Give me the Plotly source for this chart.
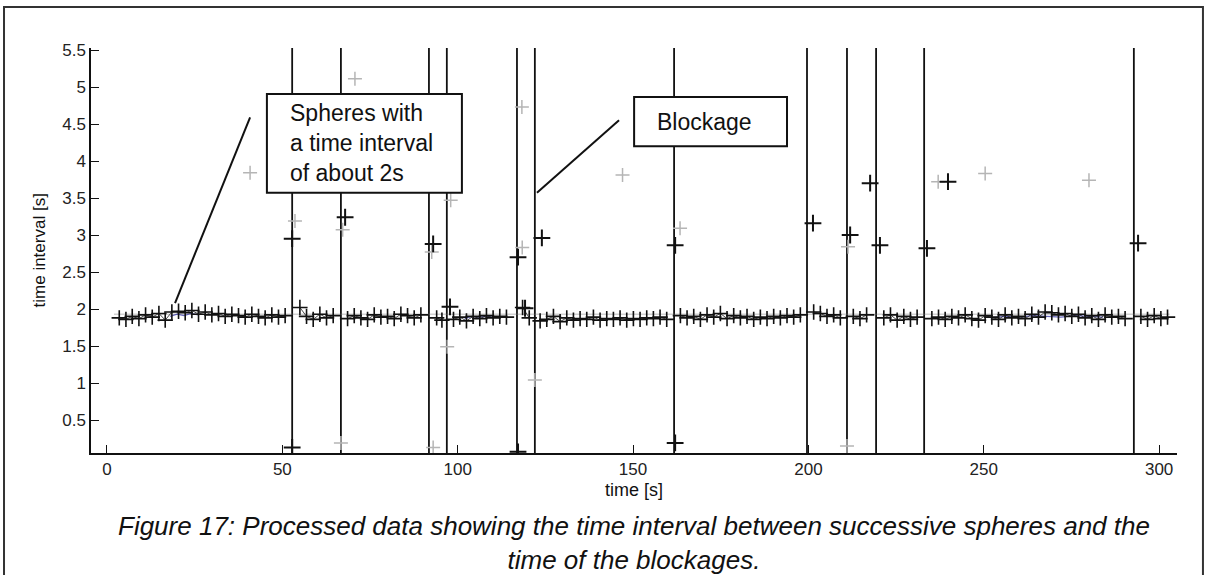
import plotly.graph_objects as go

# ---------------- data ----------------
main_times = [3.5, 5.4, 7.2, 9.1, 11.0, 12.9, 14.8, 16.6, 18.5, 20.4, 22.3, 24.2, 26.1, 28.0, 29.9,
              31.8, 33.7, 35.6, 37.5, 39.4, 41.3, 43.2, 45.1, 47.0, 48.9, 50.8,
              None,
              55.0, 56.9, 58.8, 60.7, 62.6, 64.5,
              None,
              68.6, 70.5, 72.4, 74.3, 76.2, 78.1, 80.0, 81.9, 83.8, 85.7, 87.6, 89.5,
              None,
              94.0, 95.5,
              None,
              98.8, 100.6, 102.5, 104.4, 106.3, 108.2, 110.1, 112.0, 113.9,
              None,
              118.5, 120.4,
              None,
              123.5, 125.4, 127.3, 129.2, 131.1, 133.0, 134.9, 136.8, 138.7, 140.6,
              142.5, 144.4, 146.3, 148.2, 150.1, 152.0, 153.9, 155.8, 157.7, 159.6,
              None,
              163.5, 165.4, 167.3, 169.2, 171.1, 173.0, 174.9, 176.8, 178.7, 180.6,
              182.5, 184.4, 186.3, 188.2, 190.1, 192.0, 193.9, 195.8, 197.7,
              None,
              201.5, 203.4, 205.3, 207.2, 209.1,
              None,
              212.8, 214.7, 216.6,
              None,
              221.5, 223.4, 225.3, 227.2, 229.1, 231.0,
              None,
              235.2, 237.1, 239.0, 240.9, 242.8, 244.7, 246.6, 248.5, 250.4, 252.3,
              254.2, 256.1, 258.0, 259.9, 261.8, 263.7, 265.6, 267.5, 269.4, 271.3,
              273.2, 275.1, 277.0, 278.9, 280.8, 282.7, 284.6, 286.5, 288.4, 290.3,
              None,
              294.8, 296.7, 298.6, 300.5, 302.4]
main_values = [1.88, 1.86, 1.90, 1.87, 1.92, 1.89, 1.94, 1.85, 1.96, 1.97, 1.95, 1.98, 1.93, 1.96, 1.92,
               1.94, 1.90, 1.93, 1.91, 1.89, 1.93, 1.90, 1.88, 1.92, 1.89, 1.91,
               None,
               2.02, 1.90, 1.86, 1.93, 1.88, 1.91,
               None,
               1.87, 1.91, 1.88, 1.86, 1.92, 1.89, 1.90, 1.87, 1.93, 1.91, 1.88, 1.92,
               None,
               1.88, 1.85,
               None,
               1.86, 1.89, 1.84, 1.90, 1.87, 1.91, 1.88, 1.90, 1.89,
               None,
               2.02, 1.88,
               None,
               1.84, 1.86, 1.90, 1.83, 1.88, 1.85, 1.87, 1.86, 1.89, 1.85,
               1.87, 1.86, 1.88, 1.85, 1.87, 1.86, 1.88, 1.87, 1.89, 1.86,
               None,
               1.91, 1.88, 1.90, 1.86, 1.92, 1.89, 1.94, 1.87, 1.91, 1.88,
               1.90, 1.86, 1.89, 1.87, 1.90, 1.88, 1.91, 1.89, 1.92,
               None,
               1.96, 1.94, 1.90, 1.92, 1.88,
               None,
               1.90, 1.87, 1.92,
               None,
               1.88, 1.92, 1.85, 1.90, 1.86, 1.89,
               None,
               1.87, 1.89, 1.86, 1.90, 1.88, 1.92, 1.87, 1.85, 1.91, 1.89,
               1.86, 1.92, 1.88, 1.90, 1.87, 1.93, 1.89, 1.96, 1.95, 1.92,
               1.94, 1.90, 1.93, 1.88, 1.91, 1.86, 1.92, 1.89, 1.90, 1.87,
               None,
               1.90, 1.86, 1.91, 1.87, 1.89]

outlier_times = [52.8, 52.8, 67.9, 93.0, 97.8, 117.2, 117.2, 119.2, 124.0, 162.0, 162.0,
                 201.3, 211.9, 217.6, 220.4, 233.8, 239.8, 294.0]
outlier_values = [2.95, 0.13, 3.24, 2.88, 2.03, 2.70, 0.07, 2.01, 2.96, 2.86, 0.19,
                  3.16, 3.00, 3.70, 2.86, 2.82, 3.72, 2.89]

faint_times = [40.8, 53.6, 67.2, 66.7, 70.7, 92.6, 93.0, 98.0, 97.0, 118.3, 118.4, 122.0,
               147.0, 163.4, 211.3, 211.0, 237.0, 250.4, 280.0]
faint_values = [3.84, 3.19, 3.07, 0.19, 5.11, 2.77, 0.13, 3.47, 1.49, 4.73, 2.83, 1.04,
                3.81, 3.09, 2.84, 0.15, 3.72, 3.83, 3.74]

blue_times = [18.0, 20.0, 22.0, 24.0, 26.0, None, 102.0, 104.0, 106.0, 108.0, 110.0,
              None, 252.0, 256.0, 260.0, 264.0, 268.0, 272.0, 276.0, 280.0, 284.0]
blue_values = [1.90, 1.93, 1.91, 1.94, 1.92, None, 1.87, 1.90, 1.89, 1.90, 1.89,
               None, 1.88, 1.90, 1.89, 1.91, 1.90, 1.89, 1.91, 1.90, 1.89]

blockage_times = [52.8, 66.7, 91.8, 96.9, 116.9, 122.0, 161.7, 199.6, 211.0, 219.3, 233.0, 292.8]

x_ticks = [0, 50, 100, 150, 200, 250, 300]
y_ticks = [0.5, 1, 1.5, 2, 2.5, 3, 3.5, 4, 4.5, 5, 5.5]
y_tick_labels = ["0.5", "1", "1.5", "2", "2.5", "3", "3.5", "4", "4.5", "5", "5.5"]

X_RANGE = [-4.56, 305.1]
Y_RANGE = [0.054, 5.527]

FONT = "Arial, Liberation Sans, sans-serif"

# ---------------- figure ----------------
fig = go.Figure()

# vertical blockage lines
bx, by = [], []
for t in blockage_times:
    bx += [t, t, None]
    by += [Y_RANGE[0], Y_RANGE[1], None]
fig.add_trace(go.Scatter(x=bx, y=by, mode="lines",
                         line=dict(color="#111111", width=1.8),
                         hoverinfo="skip", showlegend=False))

# faint gray mean line
fig.add_trace(go.Scatter(x=[2, 303], y=[1.93, 1.93], mode="lines",
                         line=dict(color="rgba(120,120,120,0.5)", width=1),
                         hoverinfo="skip", showlegend=False))

# faint gray detections
fig.add_trace(go.Scatter(x=faint_times, y=faint_values, mode="markers",
                         marker=dict(symbol="cross-thin", size=10,
                                     line=dict(color="#b5b5b5", width=1.5)),
                         showlegend=False))

# blue trace
fig.add_trace(go.Scatter(x=blue_times, y=blue_values, mode="lines",
                         line=dict(color="rgba(40,40,160,0.7)", width=1.2),
                         showlegend=False))

# main measured intervals
fig.add_trace(go.Scatter(x=main_times, y=main_values, mode="lines+markers",
                         line=dict(color="rgba(30,30,30,0.8)", width=1),
                         marker=dict(symbol="cross-thin", size=11,
                                     line=dict(color="#111111", width=1.6)),
                         showlegend=False))

# outliers
fig.add_trace(go.Scatter(x=outlier_times, y=outlier_values, mode="markers",
                         marker=dict(symbol="cross-thin", size=12,
                                     line=dict(color="#111111", width=2)),
                         showlegend=False))

axis_common = dict(showgrid=False, zeroline=False, showline=True, linecolor="#111111",
                   linewidth=1.5, ticks="inside", ticklen=8, tickwidth=1.3,
                   tickcolor="#111111", mirror=False,
                   tickfont=dict(family=FONT, size=17, color="#222222"))

fig.update_xaxes(range=X_RANGE, tickmode="array", tickvals=x_ticks, **axis_common)
fig.update_yaxes(range=Y_RANGE, tickmode="array", tickvals=y_ticks,
                 ticktext=y_tick_labels, **axis_common)

shapes = [
    # outer frame
    dict(type="rect", xref="paper", yref="paper", x0=-0.0801, x1=1.0239, y0=-0.31, y1=1.101,
         line=dict(color="#333333", width=2), fillcolor="rgba(0,0,0,0)", layer="below"),
    # annotation boxes
    dict(type="rect", xref="x", yref="y", x0=45.6, x1=101.2, y0=3.57, y1=4.905,
         line=dict(color="#111111", width=2), fillcolor="white", layer="above"),
    dict(type="rect", xref="x", yref="y", x0=150.3, x1=193.9, y0=4.20, y1=4.865,
         line=dict(color="#111111", width=2), fillcolor="white", layer="above"),
    # pointer lines
    dict(type="line", xref="x", yref="y", x0=40.8, y0=4.59, x1=19.4, y1=2.08,
         line=dict(color="#111111", width=2), layer="above"),
    dict(type="line", xref="x", yref="y", x0=146.0, y0=4.55, x1=122.6, y1=3.57,
         line=dict(color="#111111", width=2), layer="above"),
]

annotations = [
    dict(text="Spheres with<br>a time interval<br>of about 2s", xref="x", yref="y",
         x=51.6, y=4.24, xanchor="left", yanchor="middle", align="left", showarrow=False,
         font=dict(family=FONT, size=23, color="#111111")),
    dict(text="Blockage", xref="x", yref="y", x=156.3, y=4.53, xanchor="left",
         yanchor="middle", showarrow=False,
         font=dict(family=FONT, size=23, color="#111111")),
    dict(text="time interval [s]", xref="paper", yref="paper", x=-0.047, y=0.5,
         textangle=-90, xanchor="center", yanchor="middle", showarrow=False,
         font=dict(family=FONT, size=17, color="#111111")),
    dict(text="time [s]", xref="paper", yref="paper", x=0.5, y=-0.091,
         xanchor="center", yanchor="middle", showarrow=False,
         font=dict(family=FONT, size=18, color="#111111")),
    dict(text="<i>Figure 17: Processed data showing the time interval between successive spheres and the"
              "<br>time of the blockages.</i>",
         xref="paper", yref="paper", x=0.5, y=-0.222, xanchor="center", yanchor="middle",
         align="center", showarrow=False, font=dict(family=FONT, size=26, color="#111111")),
]

fig.update_layout(
    width=1206, height=575,
    margin=dict(l=91, r=29, t=48, b=122),
    paper_bgcolor="white", plot_bgcolor="white",
    shapes=shapes, annotations=annotations,
    showlegend=False,
)

# remove the default 8px page margin so the figure fills the window exactly
fig.write_html("out.html", config={"displayModeBar": False},
               post_script="document.body.style.margin='0';")
